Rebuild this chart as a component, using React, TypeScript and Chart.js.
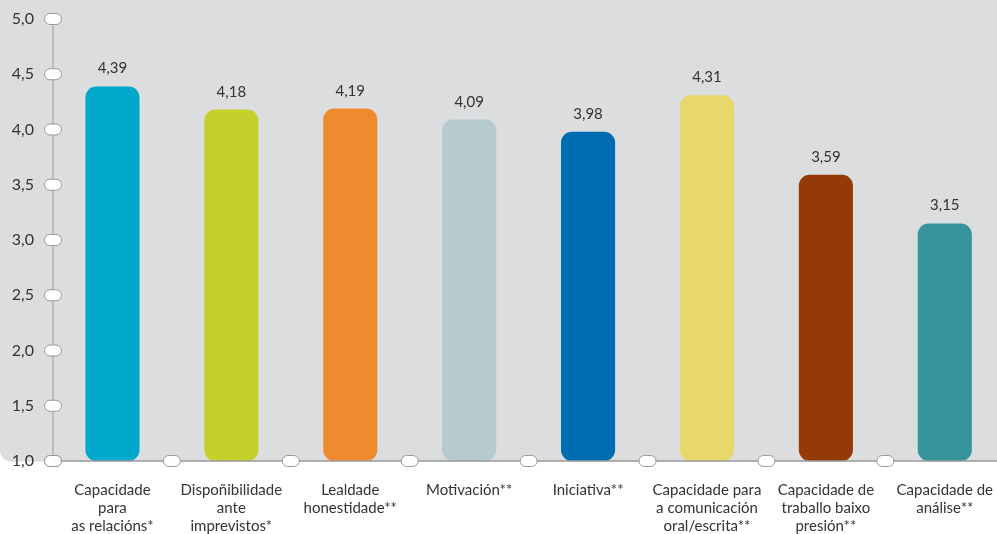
import React, { useEffect, useRef } from "react";
import { Chart, registerables } from "chart.js";

Chart.register(...registerables);

const categories: string[][] = [
  ["Capacidade", "para", "as relacións*"],
  ["Dispoñibilidade", "ante", "imprevistos*"],
  ["Lealdade", "honestidade**"],
  ["Motivación**"],
  ["Iniciativa**"],
  ["Capacidade para", "a comunicación", "oral/escrita**"],
  ["Capacidade de", "traballo baixo", "presión**"],
  ["Capacidade de", "análise**"],
];
const values: number[] = [4.39, 4.18, 4.19, 4.09, 3.98, 4.31, 3.59, 3.15];
const barColors: string[] = [
  "#00a8cc",
  "#c5d12a",
  "#ef8b2f",
  "#b5cbd0",
  "#006db3",
  "#e8d76a",
  "#943a06",
  "#36959a",
];
const yMin = 1;
const yMax = 5;
const yStep = 0.5;

const FONT = "Lato";
const fmt = (v: number, d: number) => v.toFixed(d).replace(".", ",");

function pill(ctx: CanvasRenderingContext2D, cx: number, cy: number) {
  const w = 17, h = 11, r = 5.5;
  ctx.beginPath();
  ctx.roundRect(cx - w / 2, cy - h / 2, w, h, r);
  ctx.fillStyle = "#ffffff";
  ctx.fill();
  ctx.lineWidth = 1;
  ctx.strokeStyle = "#9a9a9a";
  ctx.stroke();
}

const decorPlugin = {
  id: "decor",
  beforeDraw(chart: any) {
    const ctx = chart.ctx as CanvasRenderingContext2D;
    const y = chart.scales.y;
    const bottom = y.getPixelForValue(yMin);
    ctx.save();
    ctx.beginPath();
    ctx.roundRect(0, 0, chart.width, bottom + 0.5, [0, 0, 0, 11]);
    ctx.fillStyle = "#dcdddf";
    ctx.fill();
    ctx.restore();
  },
  afterDatasetsDraw(chart: any) {
    const ctx = chart.ctx as CanvasRenderingContext2D;
    const meta = chart.getDatasetMeta(0);
    ctx.save();
    ctx.font = `15px ${FONT}`;
    ctx.fillStyle = "#333333";
    ctx.textAlign = "center";
    ctx.textBaseline = "alphabetic";
    meta.data.forEach((bar: any, i: number) => {
      ctx.fillText(fmt(values[i], 2), bar.x, bar.y - 13);
    });
    ctx.restore();
  },
  afterDraw(chart: any) {
    const ctx = chart.ctx as CanvasRenderingContext2D;
    const ys = chart.scales.y;
    const xs = chart.scales.x;
    const area = chart.chartArea;
    const bottom = ys.getPixelForValue(yMin);
    ctx.save();
    ctx.strokeStyle = "#9a9a9a";
    ctx.lineWidth = 1.5;
    ctx.beginPath();
    ctx.moveTo(area.left, bottom);
    ctx.lineTo(chart.width, bottom);
    ctx.stroke();
    ctx.lineWidth = 1;
    ctx.beginPath();
    ctx.moveTo(area.left, ys.getPixelForValue(yMax));
    ctx.lineTo(area.left, bottom);
    ctx.stroke();
    for (let v = yMin; v <= yMax + 1e-9; v += yStep) {
      pill(ctx, area.left, ys.getPixelForValue(v));
    }
    const n = categories.length;
    const half = (xs.getPixelForValue(1) - xs.getPixelForValue(0)) / 2;
    for (let i = 0; i < n; i++) {
      pill(ctx, xs.getPixelForValue(i) - half, bottom);
    }
    ctx.restore();
  },
};

export default function App() {
  const ref = useRef<HTMLCanvasElement | null>(null);
  useEffect(() => {
    if (!ref.current) return;
    const chart = new Chart(ref.current, {
      type: "bar",
      data: {
        labels: categories,
        datasets: [
          {
            data: values.map((v) => [yMin, v]) as any,
            backgroundColor: barColors,
            borderRadius: 11,
            borderSkipped: false,
            categoryPercentage: 1,
            barPercentage: 0.455,
          },
        ],
      },
      options: {
        animation: false,
        responsive: false,
        maintainAspectRatio: false,
        devicePixelRatio: 1,
        layout: { padding: { top: 19, left: 0, right: 0, bottom: 0 } },
        plugins: {
          legend: { display: false },
          tooltip: { enabled: false },
        },
        scales: {
          x: {
            type: "category",
            offset: true,
            grid: { display: false, drawTicks: false },
            border: { display: false },
            ticks: {
              padding: 20,
              color: "#333333",
              font: { family: FONT, size: 15, lineHeight: 1.2 },
              maxRotation: 0,
              autoSkip: false,
            },
            afterFit(scale: any) {
              scale.height = 73;
            },
          },
          y: {
            min: yMin,
            max: yMax,
            grid: { display: false, drawTicks: false },
            border: { display: false },
            ticks: {
              stepSize: yStep,
              padding: 19,
              color: "#333333",
              font: { family: FONT, size: 16 },
              callback: (v: any) => fmt(Number(v), 1),
            },
            afterFit(scale: any) {
              scale.width = 53;
              scale.paddingTop = 8;
              scale.paddingBottom = 8;
            },
          },
        },
      },
      plugins: [decorPlugin],
    });
    return () => chart.destroy();
  }, []);
  return (
    <div
      style={{
        position: "fixed",
        left: 0,
        top: 0,
        width: 997,
        height: 534,
        overflow: "hidden",
        background: "#ffffff",
      }}
    >
      <canvas ref={ref} width={1013} height={534} style={{ width: 1013, height: 534, display: "block" }} />
    </div>
  );
}
